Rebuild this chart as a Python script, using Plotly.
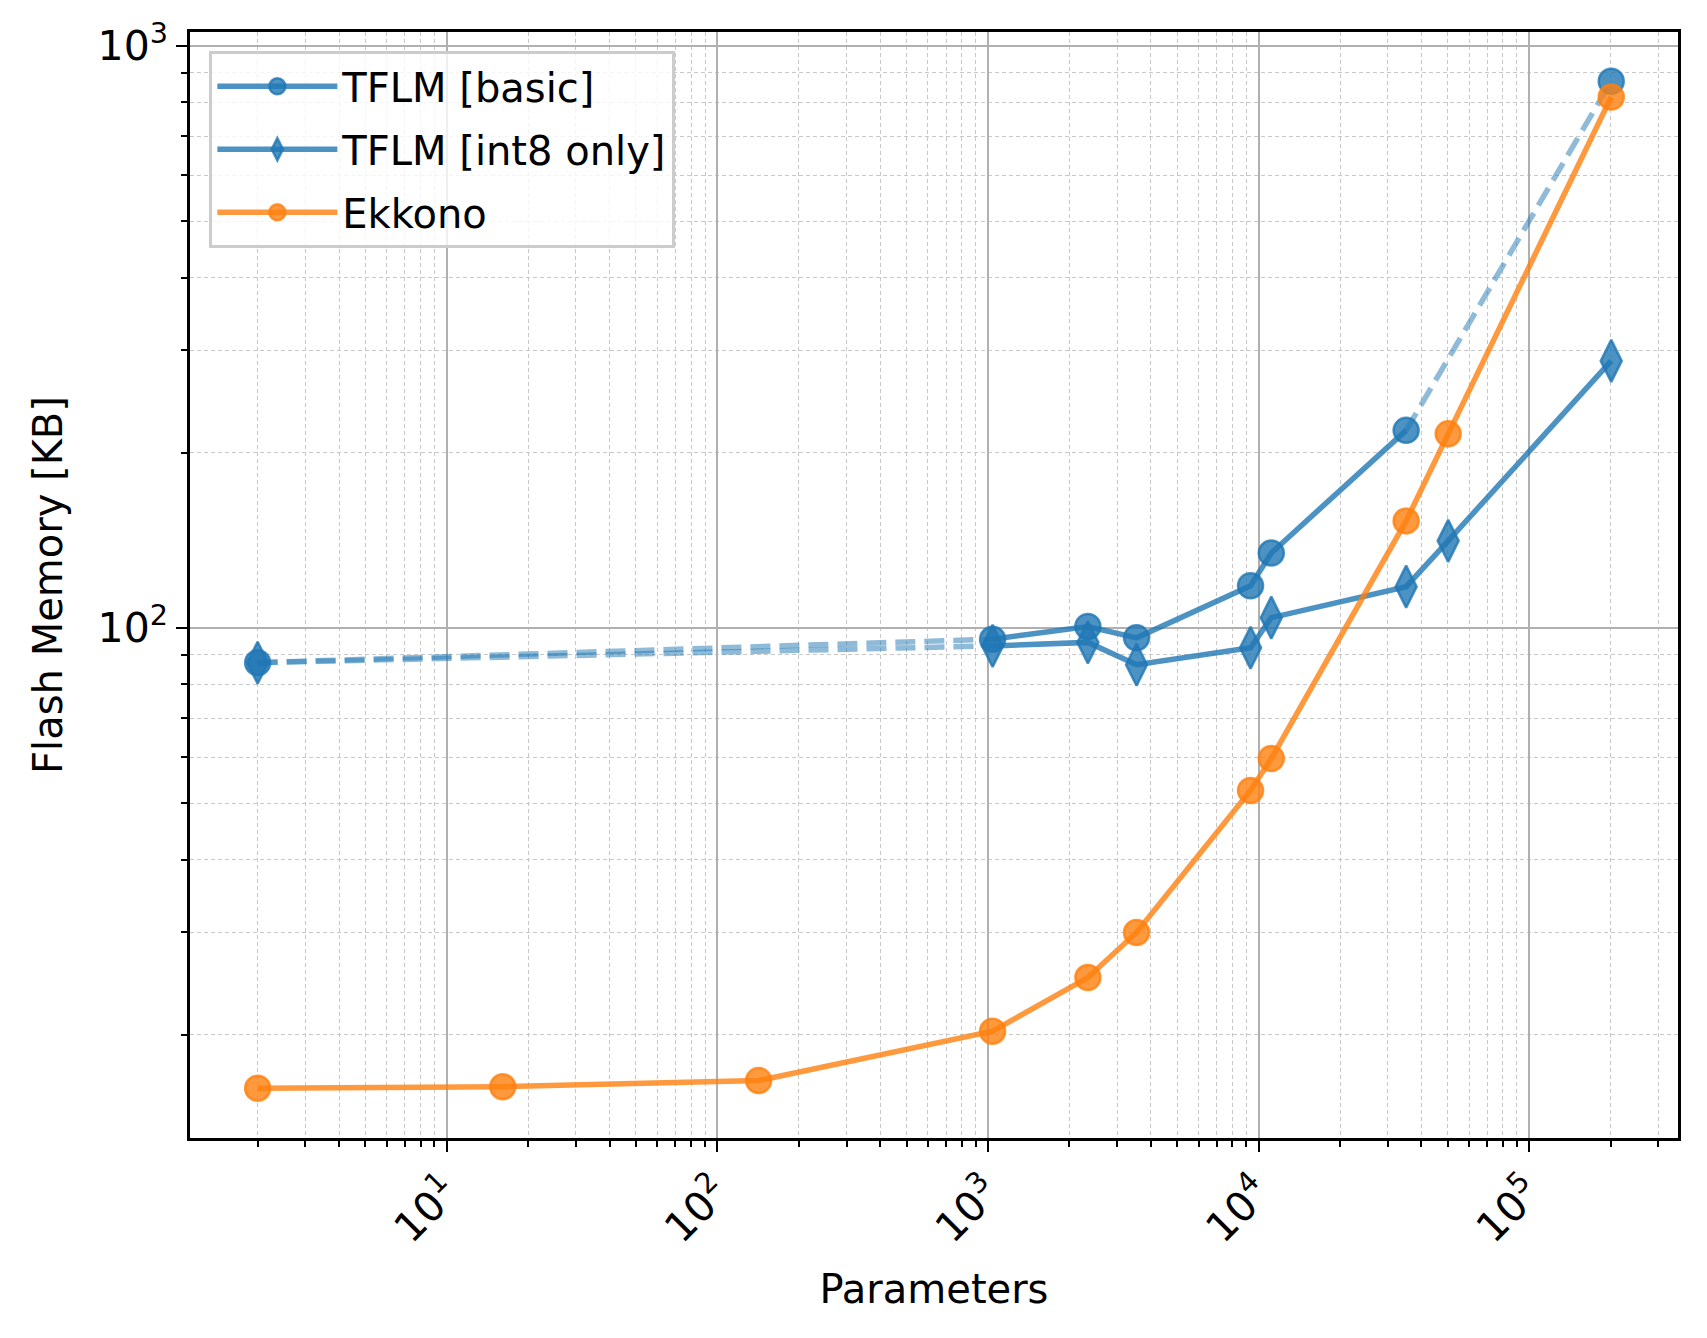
import plotly.graph_objects as go

# ---------------- data ----------------
x_basic = [2, 1040, 2340, 3540, 9340, 11140, 35100, 201000]
y_basic = [87.2, 95.7, 100.6, 96.2, 118.2, 134.6, 218.6, 870]

x_int8 = [2, 1040, 2340, 3540, 9340, 11140, 35100, 50200, 201000]
y_int8 = [87.2, 93.2, 94.5, 86.5, 92.5, 104.2, 117.8, 141.2, 287.7]

x_ekkono = [2, 16.1, 142, 1040, 2340, 3540, 9340, 11140, 35100, 50200, 201000]
y_ekkono = [16.2, 16.3, 16.7, 20.3, 25.1, 30.0, 52.6, 59.7, 152.8, 215.6, 817]

x_tickvals = [10, 100, 1000, 10000, 100000]
x_ticktext = ["10<sup>1</sup>", "10<sup>2</sup>", "10<sup>3</sup>", "10<sup>4</sup>", "10<sup>5</sup>"]
y_tickvals = [100, 1000]
y_ticktext = ["10<sup>2</sup>", "10<sup>3</sup>"]

names = ["TFLM [basic]", "TFLM [int8 only]", "Ekkono"]

# ---------------- style ----------------
BLUE = "31,119,180"
ORANGE = "255,127,14"
LW = 5.5
FONT = "DejaVu Sans"
CIRCLE = 25
DIAMOND = 30


def rgba(c, a):
    return f"rgba({c},{a})"


fig = go.Figure()

# dashed (extrapolated) segments
dash_style = "20px,9px"
fig.add_trace(go.Scatter(x=x_basic[0:2], y=y_basic[0:2], mode="lines",
                         line=dict(color=rgba(BLUE, 0.5), width=LW, dash=dash_style),
                         showlegend=False, hoverinfo="skip"))
fig.add_trace(go.Scatter(x=x_int8[0:2], y=y_int8[0:2], mode="lines",
                         line=dict(color=rgba(BLUE, 0.5), width=LW, dash=dash_style),
                         showlegend=False, hoverinfo="skip"))
fig.add_trace(go.Scatter(x=x_basic[6:8], y=y_basic[6:8], mode="lines",
                         line=dict(color=rgba(BLUE, 0.5), width=LW, dash=dash_style),
                         showlegend=False, hoverinfo="skip"))

# TFLM basic: solid middle part + all markers
fig.add_trace(go.Scatter(x=x_basic[1:7], y=y_basic[1:7], mode="lines",
                         line=dict(color=rgba(BLUE, 0.8), width=LW),
                         showlegend=False, legendgroup="a"))
fig.add_trace(go.Scatter(x=x_basic, y=y_basic, mode="markers", name=names[0],
                         legendgroup="a",
                         marker=dict(symbol="circle", size=CIRCLE, color=rgba(BLUE, 0.8),
                                     line=dict(color=rgba(BLUE, 0.8), width=2.5)),
                         showlegend=False))
fig.add_trace(go.Scatter(x=[None], y=[None], mode="lines+markers", name=names[0],
                         legendgroup="a",
                         line=dict(color=rgba(BLUE, 0.8), width=LW),
                         marker=dict(symbol="circle", size=CIRCLE, color=rgba(BLUE, 0.8),
                                     line=dict(color=rgba(BLUE, 0.8), width=2.5))))

# TFLM int8 only
fig.add_trace(go.Scatter(x=x_int8[1:], y=y_int8[1:], mode="lines",
                         line=dict(color=rgba(BLUE, 0.8), width=LW),
                         showlegend=False, legendgroup="b"))
fig.add_trace(go.Scatter(x=x_int8, y=y_int8, mode="markers", name=names[1],
                         legendgroup="b",
                         marker=dict(symbol="diamond-tall", size=DIAMOND, color=rgba(BLUE, 0.8),
                                     line=dict(color=rgba(BLUE, 0.8), width=2.5)),
                         showlegend=False))
fig.add_trace(go.Scatter(x=[None], y=[None], mode="lines+markers", name=names[1],
                         legendgroup="b",
                         line=dict(color=rgba(BLUE, 0.8), width=LW),
                         marker=dict(symbol="diamond-tall", size=DIAMOND, color=rgba(BLUE, 0.8),
                                     line=dict(color=rgba(BLUE, 0.8), width=2.5))))

# Ekkono
fig.add_trace(go.Scatter(x=x_ekkono, y=y_ekkono, mode="lines+markers", name=names[2],
                         legendgroup="c",
                         line=dict(color=rgba(ORANGE, 0.8), width=LW),
                         marker=dict(symbol="circle", size=CIRCLE, color=rgba(ORANGE, 0.8),
                                     line=dict(color=rgba(ORANGE, 0.8), width=2.5))))

axis_common = dict(
    type="log",
    showline=True, linecolor="black", linewidth=2.5, mirror=True,
    ticks="outside", ticklen=11, tickwidth=2.2, tickcolor="black",
    showgrid=True, gridcolor="#b0b0b0", gridwidth=2,
    zeroline=False,
    tickfont=dict(family=FONT, size=41, color="black"),
)

x_minor = [m * 10 ** e for e in range(0, 6) for m in range(2, 10)]
y_minor = [m * 10 ** e for e in range(1, 4) for m in range(2, 10)]

fig.update_xaxes(
    **axis_common,
    range=[0.051, 5.550],
    tickmode="array", tickvals=x_tickvals, ticktext=x_ticktext,
    tickangle=-45,
    minor=dict(tickmode="array", tickvals=x_minor, ticks="outside", ticklen=6,
               tickwidth=1.6, tickcolor="black", showgrid=True,
               gridcolor="#c8c8c8", gridwidth=1, griddash="4px,3px"),
    title=dict(text="Parameters", font=dict(family=FONT, size=40, color="black"), standoff=25),
)
fig.update_yaxes(
    **axis_common,
    range=[1.124, 3.024],
    tickmode="array", tickvals=y_tickvals, ticktext=y_ticktext,
    minor=dict(tickmode="array", tickvals=y_minor, ticks="outside", ticklen=6,
               tickwidth=1.6, tickcolor="black", showgrid=True,
               gridcolor="#c8c8c8", gridwidth=1, griddash="4px,3px"),
    title=dict(text="Flash Memory [KB]", font=dict(family=FONT, size=40, color="black"), standoff=23),
)

# the page body adds an 8px offset, so the figure is 8px smaller and margins shifted
fig.update_layout(
    width=1699, height=1330,
    margin=dict(l=182, r=29, t=24, b=200, autoexpand=False),
    plot_bgcolor="white", paper_bgcolor="white",
    font=dict(family=FONT, size=40, color="black"),
    legend=dict(x=0.013, y=0.983, xanchor="left", yanchor="top",
                bgcolor="rgba(255,255,255,0.8)", bordercolor="#cccccc", borderwidth=3,
                font=dict(family=FONT, size=40, color="black"),
                traceorder="grouped", tracegroupgap=8, itemwidth=120),
    showlegend=True,
)

fig.write_html("out.html")
